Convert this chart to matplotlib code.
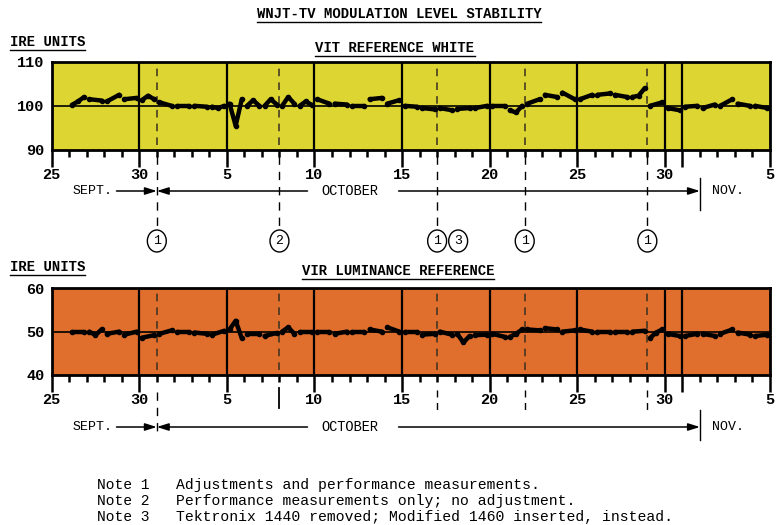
import matplotlib
matplotlib.use('Agg')
import matplotlib.pyplot as plt
from matplotlib.patches import Ellipse
from matplotlib.lines import Line2D
import numpy as np

plt.rcParams['font.family'] = ['Liberation Mono', 'DejaVu Sans Mono']

W, H = 779, 525

# x axis is counted in days: 0 = Sept 25, 6 = Oct 1, 37 = Nov 1, 41 = Nov 5
tick_days = [0, 5, 10, 15, 20, 25, 30, 35, 36, 41]
tick_labels = ['25', '30', '5', '10', '15', '20', '25', '30', '', '5']
grid_days = [5, 10, 15, 20, 25, 30, 35, 36]
note_days = [6, 13, 22, 27, 34]
circle_days = [6, 13, 22, 23.2, 27, 34]
circle_labels = ['1', '2', '1', '3', '1', '1']
first_day = 1  # readings start on Sept 26

# readings per day (IRE units)
vit_white = [
    [100.2, 101.0, 102.0], [101.5, 101.2], [101.0, 102.5], [101.5, 101.8],
    [101.3, 102.3, 101.5], [100.8, 100.0], [100.0, 100.0], [100.0, 99.8],
    [99.8, 99.5, 100.0], [100.5, 95.5, 101.5], [100.0, 101.3, 100.0],
    [100.0, 101.5, 100.3], [100.0, 102.0, 100.5], [100.0, 101.0, 100.2],
    [101.5, 100.5], [100.5, 100.3], [100.0, 100.0], [101.5, 101.8],
    [100.5, 101.3], [100.0, 99.8], [99.5, 99.2], [99.5, 99.0], [99.3, 99.5],
    [99.5, 100.0], [100.0, 100.0], [99.0, 98.5, 100.0], [100.5, 101.5],
    [102.5, 102.0], [103.0, 101.5], [101.5, 102.5], [102.5, 102.8],
    [102.5, 102.0], [102.0, 102.3, 104.0], [100.0, 100.8], [99.5, 99.0],
    [99.8, 100.0], [99.5, 100.3], [100.0, 101.5], [100.5, 100.0], [100.0, 99.5],
]
vir_luminance = [
    [50.0, 50.0], [50.0, 49.2, 50.5], [49.5, 50.0], [49.3, 50.0], [48.6, 49.2],
    [49.5, 50.3], [50.0, 50.0], [49.8, 49.5], [49.3, 50.2], [50.5, 52.5, 48.5],
    [49.5, 49.5], [49.0, 49.7], [50.0, 51.0, 49.5], [50.0, 50.0], [50.0, 50.0],
    [49.5, 50.0], [50.0, 50.0], [50.5, 50.0], [51.0, 50.0], [50.0, 50.0],
    [49.3, 49.5], [50.0, 49.3], [49.5, 47.5, 49.0], [49.2, 49.3], [49.5, 48.8],
    [48.8, 49.5, 50.5], [50.5, 50.3], [50.8, 50.5], [50.0, 50.3], [50.5, 50.0],
    [50.0, 50.0], [50.0, 50.0], [50.0, 50.2], [48.5, 49.8, 50.5], [49.5, 49.0],
    [49.0, 49.5], [49.5, 49.0], [49.5, 50.5], [49.8, 49.3], [49.0, 49.3],
]

notes = [
    ('Note 1', 'Adjustments and performance measurements.'),
    ('Note 2', 'Performance measurements only; no adjustment.'),
    ('Note 3', 'Tektronix 1440 removed; Modified 1460 inserted, instead.'),
]

fig = plt.figure(figsize=(W / 100, H / 100), dpi=100)
fig.patch.set_facecolor('white')


def px_axes(left, top, right, bottom):
    return fig.add_axes([left / W, 1 - bottom / H, (right - left) / W, (bottom - top) / H])


def below(ax, ypx):
    # figure pixel row -> axes fraction (for things drawn under the axes)
    pos = ax.get_position()
    top = (1 - pos.y1) * H
    bot = (1 - pos.y0) * H
    return (bot - ypx) / (bot - top)


def panel(ax, readings, ylim, ref, face):
    ax.set_facecolor(face)
    ax.set_xlim(0, 41)
    ax.set_ylim(*ylim)
    for d in grid_days:
        ax.axvline(d, color='k', lw=1.6, zorder=2)
    ax.axhline(ref, color='k', lw=1.2, zorder=2)
    for d in note_days:
        ax.axvline(d, ymin=0.06, ymax=0.95, color='#3a3020', lw=1.1, ls=(0, (5, 4)), zorder=2)
    for i, vals in enumerate(readings):
        xs = first_day + i + np.linspace(0.15, 0.85, len(vals))
        ax.plot(xs, vals, color='k', lw=3.2, solid_capstyle='round',
                solid_joinstyle='round', marker='o', ms=3, zorder=3)
    ax.set_xticks(tick_days)
    ax.set_xticklabels(tick_labels)
    ax.set_xticks(np.arange(0, 42), minor=True)
    ax.tick_params(axis='x', which='major', direction='out', length=12, width=1.8,
                   pad=1, labelsize=11)
    ax.tick_params(axis='x', which='minor', direction='out', length=5, width=1.8)
    ax.set_yticks([ylim[0], ref, ylim[1]])
    ax.tick_params(axis='y', length=0, pad=5, labelsize=11)
    for lbl in ax.get_xticklabels() + ax.get_yticklabels():
        lbl.set_fontweight('bold')
    for s in ax.spines.values():
        s.set_linewidth(2)


def arrow(ax, x0, x1, y):
    ax.annotate('', xy=(x1, y), xytext=(x0, y), xycoords=ax.get_xaxis_transform(),
                textcoords=ax.get_xaxis_transform(), annotation_clip=False,
                arrowprops=dict(arrowstyle='-|>,head_length=0.7,head_width=0.22',
                                color='k', lw=1.1, shrinkA=0, shrinkB=0))


def months(ax, ypx, nov_top, nov_bot):
    tr = ax.get_xaxis_transform()
    y = below(ax, ypx)
    ax.text(1.2, y, 'SEPT.', transform=tr, ha='left', va='center', fontsize=9.5)
    ax.text(15.4, y, 'OCTOBER', transform=tr, ha='left', va='center', fontsize=9.8)
    ax.text(37.7, y, 'NOV.', transform=tr, ha='left', va='center', fontsize=9.5)
    arrow(ax, 3.7, 6, y)
    arrow(ax, 14.6, 6, y)
    arrow(ax, 19.8, 37, y)
    ax.plot([37, 37], [below(ax, nov_top), below(ax, nov_bot)], transform=tr,
            color='k', lw=1, clip_on=False)


ax1 = px_axes(51.7, 61.7, 770, 150)
panel(ax1, vit_white, (90, 110), 100, '#ddd632')
ax2 = px_axes(51.7, 288.3, 770, 375)
panel(ax2, vir_luminance, (40, 60), 50, '#e06e2d')

# top panel: note markers running down to the circles
tr1 = ax1.get_xaxis_transform()
for d in note_days:
    ax1.plot([d, d], [below(ax1, 156), below(ax1, 231)], transform=tr1, color='k',
             lw=1, ls=(0, (6, 5)), clip_on=False)
months(ax1, 191, 178, 210)
cy = below(ax1, 241)
ch = 22 / (150 - 61.7)
for d, lab in zip(circle_days, circle_labels):
    ax1.add_patch(Ellipse((d, cy), 1.08, ch, transform=tr1, fill=False, lw=1,
                          ec='k', clip_on=False))
    ax1.text(d, cy, lab, transform=tr1, ha='center', va='center', fontsize=9.5)

# bottom panel: short markers under the axis
tr2 = ax2.get_xaxis_transform()
for d in note_days:
    if d == 6:
        ax2.plot([d, d], [below(ax2, 392), below(ax2, 437)], transform=tr2, color='k',
                 lw=1, ls=(0, (6, 5)), clip_on=False)
    elif d == 13:
        ax2.plot([d, d], [below(ax2, 388), below(ax2, 408)], transform=tr2, color='k',
                 lw=1.3, clip_on=False)
    else:
        ax2.plot([d, d], [below(ax2, 390), below(ax2, 412)], transform=tr2, color='k',
                 lw=1, ls=(0, (5, 4)), clip_on=False)
months(ax2, 427, 410, 440)

# headings
heads = [
    fig.text(399 / W, 1 - 14 / H, 'WNJT-TV MODULATION LEVEL STABILITY', ha='center',
             va='center', fontsize=10, fontweight='bold'),
    fig.text(10 / W, 1 - 42 / H, 'IRE UNITS', ha='left', va='center', fontsize=10,
             fontweight='bold'),
    fig.text(395 / W, 1 - 48 / H, 'VIT REFERENCE WHITE', ha='center', va='center',
             fontsize=10, fontweight='bold'),
    fig.text(10 / W, 1 - 267 / H, 'IRE UNITS', ha='left', va='center', fontsize=10,
             fontweight='bold'),
    fig.text(398 / W, 1 - 271 / H, 'VIR LUMINANCE REFERENCE', ha='center', va='center',
             fontsize=10, fontweight='bold'),
]

for i, (n, txt) in enumerate(notes):
    y = 1 - (485 + 15.8 * i) / H
    fig.text(97 / W, y, n, ha='left', va='center', fontsize=10.5)
    fig.text(176 / W, y, txt, ha='left', va='center', fontsize=10.6)

# underline the headings
fig.canvas.draw()
inv = fig.transFigure.inverted()
for t in heads:
    bb = t.get_window_extent().transformed(inv)
    fig.add_artist(Line2D([bb.x0, bb.x1], [bb.y0 - 1 / H, bb.y0 - 1 / H],
                          transform=fig.transFigure, color='k', lw=1))

fig.savefig('out.png', dpi=100)
